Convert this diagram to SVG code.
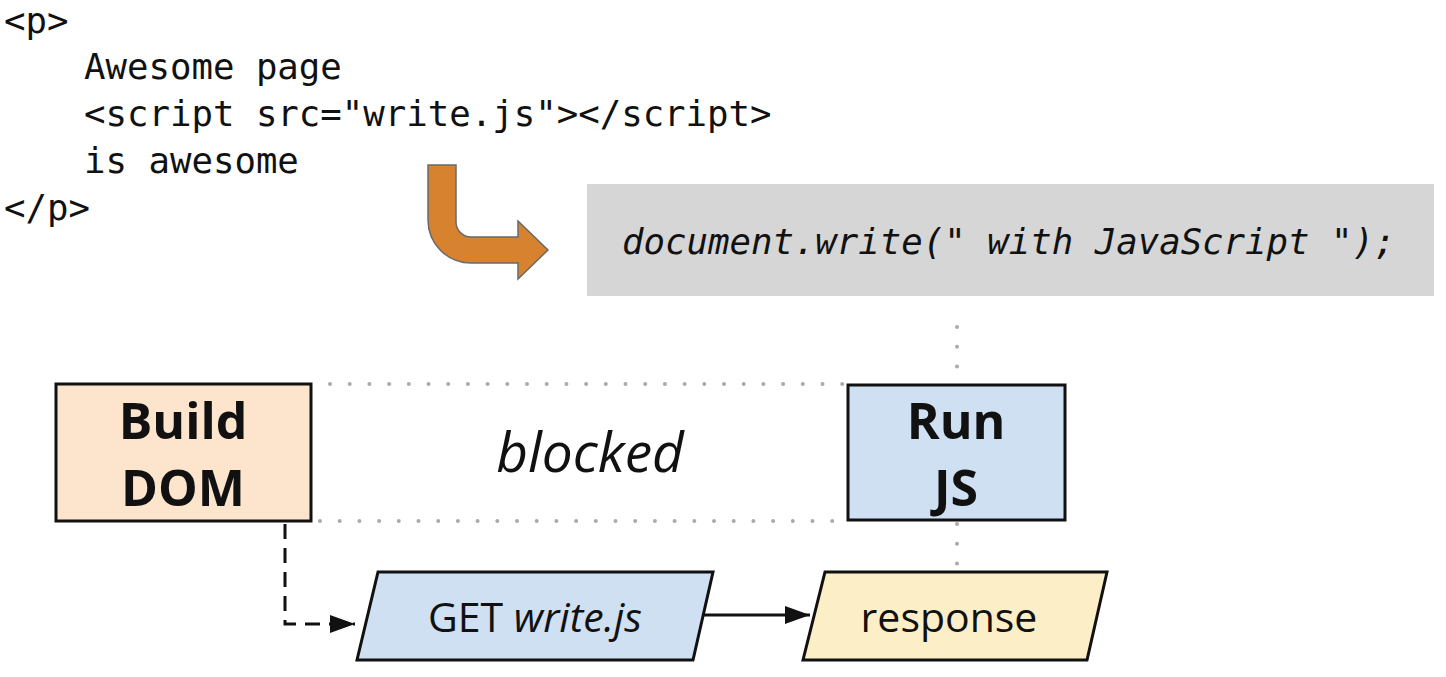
<svg xmlns="http://www.w3.org/2000/svg" width="1446" height="677" viewBox="0 0 1446 677">
<defs>
<style>
.code{font-family:"DejaVu Sans Mono","Liberation Mono",monospace;font-size:35.7px;fill:#111}
.js{font-family:"DejaVu Sans Mono","Liberation Mono",monospace;font-size:35.7px;font-style:italic;fill:#111}
.box{stroke:#111;stroke-width:3}
.bold{font-family:"Open Sans","Noto Sans",sans-serif;font-weight:bold;font-size:50px;fill:#111;text-anchor:middle}
.lbl{font-family:"Open Sans","Noto Sans",sans-serif;font-size:41px;fill:#111;text-anchor:middle}
.dot{stroke:#aaa;stroke-width:4;stroke-linecap:round;stroke-dasharray:0 19.7;fill:none}
.conn{stroke:#111;stroke-width:3;fill:none}
</style>
<marker id="ah" markerUnits="userSpaceOnUse" markerWidth="26" markerHeight="20" refX="25" refY="9" orient="auto">
<path d="M0,0 L25,9 L0,18 z" fill="#111"/>
</marker>
</defs>
<rect width="1446" height="677" fill="#fff"/>
<g id="code">
<text class="code" x="4" y="33">&lt;p&gt;</text>
<text class="code" x="84" y="79">Awesome page</text>
<text class="code" x="84" y="126">&lt;script src="write.js"&gt;&lt;/script&gt;</text>
<text class="code" x="84" y="173">is awesome</text>
<text class="code" x="4" y="220">&lt;/p&gt;</text>
</g>
<g id="orange-arrow">
<path d="M428,165 H456 V222 A15,15 0 0 0 471,237 H518 V221 L548,250 L518,279 V263 H471 A43,43 0 0 1 428,220 Z" fill="#D6822F" stroke="#6a6a6a" stroke-width="1.5"/>
</g>
<g id="js-code">
<rect x="587" y="184" width="847" height="112" fill="#d6d6d6"/>
<text class="js" x="622" y="254">document.write(" with JavaScript ");</text>
</g>
<g id="guides">
<line class="dot" x1="330" y1="384" x2="846" y2="384"/>
<line class="dot" x1="320" y1="521" x2="846" y2="521"/>
<line class="dot" x1="957" y1="327" x2="957" y2="380"/>
<line class="dot" x1="957" y1="524" x2="957" y2="565"/>
</g>
<g id="build-dom">
<rect class="box" x="56" y="384" width="255" height="137" fill="#FCE4CD"/>
<text class="bold" x="183" y="439">Build</text>
<text class="bold" x="183" y="506">DOM</text>
</g>
<g id="blocked">
<text x="590" y="472" font-family="'Open Sans','Noto Sans',sans-serif" font-style="italic" font-size="55" fill="#111" text-anchor="middle">blocked</text>
</g>
<g id="run-js">
<rect class="box" x="848" y="385" width="217" height="135" fill="#CFE0F2"/>
<text class="bold" x="956" y="439">Run</text>
<text class="bold" x="956" y="506">JS</text>
</g>
<g id="get-write">
<polygon class="box" points="378,572 713,572 693,660 357,660" fill="#CFE0F2"/>
<text class="lbl" x="535" y="632" font-size="42">GET <tspan font-style="italic">write.js</tspan></text>
</g>
<g id="response">
<polygon class="box" points="825,572 1107,572 1087,660 803,660" fill="#FCEFC7"/>
<text class="lbl" x="949" y="632" font-size="40">response</text>
</g>
<g id="connectors">
<path class="conn" d="M285,524 V624 H355" stroke-dasharray="15 9" marker-end="url(#ah)"/>
<path class="conn" d="M703,615 H810" marker-end="url(#ah)"/>
</g>
</svg>
